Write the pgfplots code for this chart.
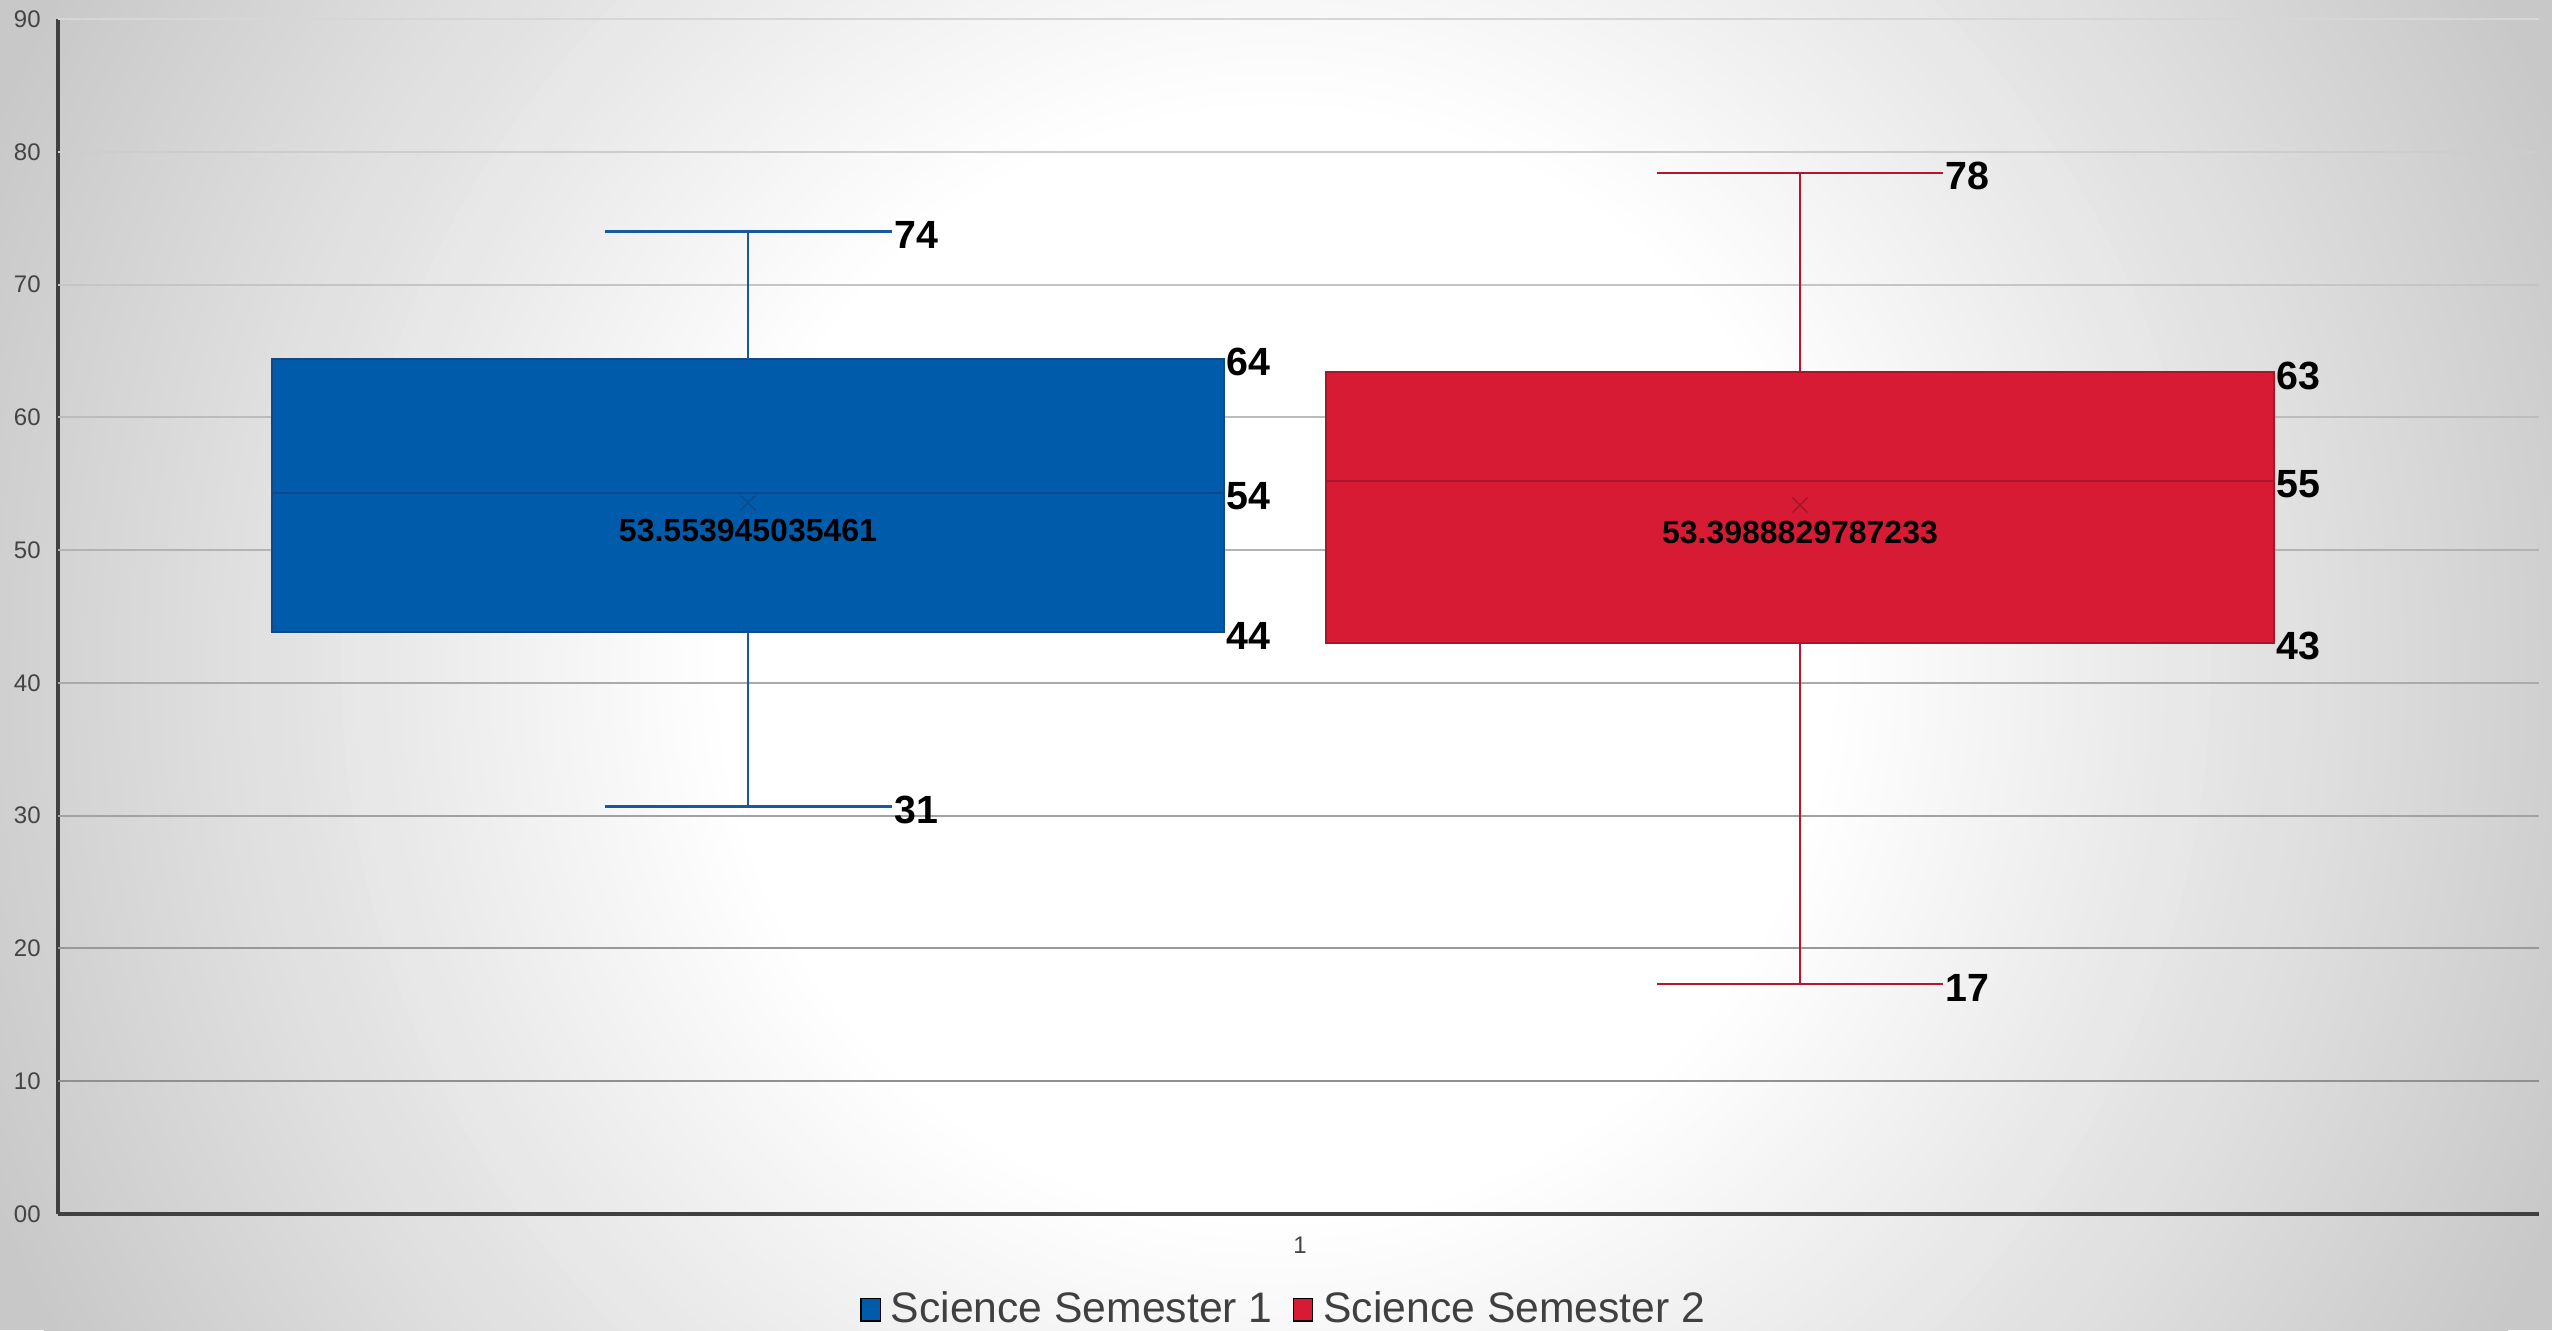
\documentclass[border=0pt]{standalone}
\usepackage{pgfplots}
\pgfplotsset{compat=1.18}
\usepackage{fontspec}
\setmainfont{Liberation Sans}

\definecolor{bgray}{RGB}{200,200,200}
\definecolor{blueF}{RGB}{0,91,171}
\definecolor{blueD}{RGB}{14,72,135}
\definecolor{blueW}{RGB}{24,88,158}
\definecolor{redF}{RGB}{216,27,52}
\definecolor{redD}{RGB}{168,22,42}
\definecolor{redW}{RGB}{180,22,46}
\definecolor{axisgray}{RGB}{64,64,64}
\definecolor{labelgray}{RGB}{68,68,68}
\definecolor{g10}{RGB}{144,144,144}
\definecolor{g20}{RGB}{153,153,153}
\definecolor{g30}{RGB}{162,162,162}
\definecolor{g40}{RGB}{170,170,170}
\definecolor{g50}{RGB}{179,179,179}
\definecolor{g60}{RGB}{188,188,188}
\definecolor{g70}{RGB}{197,197,197}
\definecolor{g80}{RGB}{205,205,205}
\definecolor{g90}{RGB}{214,214,214}

\tikzset{
  lbl/.style={anchor=west, inner sep=0.5pt, yshift=-1pt, font=\fontsize{11.8}{12}\selectfont\bfseries},
  meanlbl/.style={inner sep=0pt, yshift=-8.3pt, font=\fontsize{9.6}{10}\selectfont\bfseries},
}

\begin{document}
\begin{tikzpicture}
% background glow: white centre, grey towards the sides
\begin{scope}
  \clip (0,0) rectangle (765.6pt,399pt);
  \fill[bgray] (0,0) rectangle (765.6pt,399pt);
  \foreach \i in {0,...,56} {
    \pgfmathsetmacro\p{100*(1-\i/56)}
    \pgfmathsetmacro\r{420*(0.4+0.6*(1-\i/56))}
    \fill[bgray!\p!white] (382.8pt,199.5pt) circle (\r pt);
  }
\end{scope}

\begin{axis}[
  at={(17.4pt,34.8pt)}, anchor=south west,
  scale only axis, width=744.3pt, height=358.5pt,
  xmin=58, xmax=2539, ymin=0, ymax=90,
  axis x line=bottom, axis y line=left,
  axis line style={-, line width=1.2pt, draw=axisgray},
  ytick={0,10,...,90},
  yticklabels={00,10,20,30,40,50,60,70,80,90},
  xtick={1300}, xticklabels={1},
  major tick length=0pt,
  tick label style={font=\fontsize{7.2}{8}\selectfont, text=labelgray},
  yticklabel style={anchor=east, inner sep=0pt, xshift=-5pt},
  xticklabel style={anchor=north, inner sep=0pt, yshift=-6.7pt},
  clip=false,
  legend style={at={(0.495,-0.0800)}, anchor=center, draw=none, fill=none,
    legend columns=2, inner sep=0pt,
    font=\fontsize{12.8}{14}\selectfont, text=axisgray,
    /tikz/every odd column/.append style={column sep=1pt},
    /tikz/every even column/.append style={column sep=4pt}},
  legend image code/.code={\fill[#1] (0pt,-3.4pt) rectangle (5.8pt,3.4pt);},
]
% grid lines, darker towards the bottom
\draw[g10, line width=0.6pt] (axis cs:58,10) -- (axis cs:2539,10);
\draw[g20, line width=0.6pt] (axis cs:58,20) -- (axis cs:2539,20);
\draw[g30, line width=0.6pt] (axis cs:58,30) -- (axis cs:2539,30);
\draw[g40, line width=0.6pt] (axis cs:58,40) -- (axis cs:2539,40);
\draw[g50, line width=0.6pt] (axis cs:58,50) -- (axis cs:2539,50);
\draw[g60, line width=0.6pt] (axis cs:58,60) -- (axis cs:2539,60);
\draw[g70, line width=0.6pt] (axis cs:58,70) -- (axis cs:2539,70);
\draw[g80, line width=0.6pt] (axis cs:58,80) -- (axis cs:2539,80);
\draw[g90, line width=0.6pt] (axis cs:58,90) -- (axis cs:2539,90);

% Semester 1: q1 43.8, median 54.3, q3 64.4, whiskers 30.7 / 74.0
\addplot[forget plot, fill=blueF, draw=blueD, line width=0.6pt]
  coordinates {(272,43.8) (1224,43.8) (1224,64.4) (272,64.4)} -- cycle;
\addplot[forget plot, draw=blueD, line width=0.7pt] coordinates {(272,54.3) (1224,54.3)};
\addplot[forget plot, draw=blueW, line width=0.7pt] coordinates {(748,64.4) (748,74.0)};
\addplot[forget plot, draw=blueW, line width=0.7pt] coordinates {(605,74.0) (892,74.0)};
\addplot[forget plot, draw=blueW, line width=0.7pt] coordinates {(748,43.8) (748,30.7)};
\addplot[forget plot, draw=blueW, line width=0.7pt] coordinates {(605,30.7) (892,30.7)};

% Semester 2: q1 43.0, median 55.2, q3 63.4, whiskers 17.3 / 78.4
\addplot[forget plot, fill=redF, draw=redD, line width=0.6pt]
  coordinates {(1326,43.0) (2274,43.0) (2274,63.4) (1326,63.4)} -- cycle;
\addplot[forget plot, draw=redD, line width=0.7pt] coordinates {(1326,55.2) (2274,55.2)};
\addplot[forget plot, draw=redW, line width=0.7pt] coordinates {(1800,63.4) (1800,78.4)};
\addplot[forget plot, draw=redW, line width=0.7pt] coordinates {(1657,78.4) (1943,78.4)};
\addplot[forget plot, draw=redW, line width=0.7pt] coordinates {(1800,43.0) (1800,17.3)};
\addplot[forget plot, draw=redW, line width=0.7pt] coordinates {(1657,17.3) (1943,17.3)};

% means
\addplot[forget plot, only marks, mark=x, mark size=3.2pt, draw=blueD, line width=0.45pt]
  coordinates {(748,53.553945)};
\addplot[forget plot, only marks, mark=x, mark size=3.2pt, draw=redD, line width=0.45pt]
  coordinates {(1800,53.398883)};

\addlegendimage{fill=blueF}
\addlegendentry{Science Semester 1}
\addlegendimage{fill=redF}
\addlegendentry{Science Semester 2}

% labels
\node[lbl] at (axis cs:892,74.0) {74};
\node[lbl] at (axis cs:1224,64.4) {64};
\node[lbl] at (axis cs:1224,54.3) {54};
\node[lbl] at (axis cs:1224,43.8) {44};
\node[lbl] at (axis cs:892,30.7) {31};
\node[meanlbl] at (axis cs:748,53.553945) {53.553945035461};

\node[lbl] at (axis cs:1943,78.4) {78};
\node[lbl] at (axis cs:2274,63.4) {63};
\node[lbl] at (axis cs:2274,55.2) {55};
\node[lbl] at (axis cs:2274,43.0) {43};
\node[lbl] at (axis cs:1943,17.3) {17};
\node[meanlbl] at (axis cs:1800,53.398883) {53.3988829787233};
\end{axis}

\pgfresetboundingbox
\useasboundingbox (0,0) rectangle (765.6pt,399pt);
\end{tikzpicture}
\end{document}
